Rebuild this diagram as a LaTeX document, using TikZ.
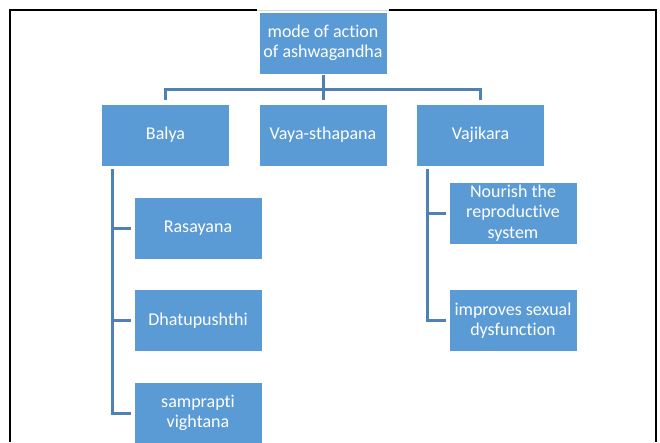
\documentclass[tikz,border=0pt]{standalone}
\usepackage{fontspec}
\setmainfont{Carlito}[Ligatures={NoCommon}]
\usetikzlibrary{calc}
\definecolor{boxblue}{HTML}{5B9BD5}
\definecolor{connblue}{HTML}{4F81B5}
\tikzset{
  box/.style={draw=white, line width=0.8pt, fill=boxblue, text=white, minimum width=128pt, minimum height=62pt, inner sep=2pt, align=center, font=\fontsize{18}{20.5}\selectfont},
  conn/.style={draw=connblue, line width=3pt},
  frame/.style={draw=black, line width=2pt}
}
\begin{document}
\begin{tikzpicture}[x=1pt, y=-1pt]
\useasboundingbox (0,0) rectangle (660,442);
% frame
\draw[frame] (10,442) -- (10,10) -- (257,10);
\draw[frame] (389,10) -- (656,10) -- (656,442);
\draw[black!15, line width=0.6pt] (257,10) -- (389,10);
% nodes
\node[box] (top) at (323,43) {mode of action\\of ashwagandha};
\node[box] (balya) at (165.5,135) {Balya};
\node[box] (vaya) at (323,135) {Vaya-sthapana};
\node[box] (vaj) at (480.5,135) {Vajikara};
\node[box] (ras) at (198,228) {Rasayana};
\node[box] (dhatu) at (198,320.5) {Dhatupushthi};
\node[box] (samp) at (198,413) {samprapti\\vightana};
\node[box] (nour) at (513,213) {Nourish the\\reproductive\\system};
\node[box] (impr) at (513,320.5) {improves sexual\\dysfunction};
\coordinate (hub) at (323,89);
% connectors
\draw[conn, shorten <=1pt] (top.south) -- (hub);
\draw[conn, shorten <=4pt, shorten >=4pt] (balya.north) -- (balya.north |- hub) -- (vaj.north |- hub) -- (vaj.north);
\draw[conn, shorten >=4pt] (hub) -- (vaya.north);
\foreach \c in {ras,dhatu,samp}{
  \draw[conn, shorten <=3pt, shorten >=3pt] ($(balya.south west)+(11,0)$) |- (\c.west);
}
\foreach \c in {nour,impr}{
  \draw[conn, shorten <=3pt, shorten >=3pt] ($(vaj.south west)+(11,0)$) |- (\c.west);
}
\end{tikzpicture}
\end{document}
